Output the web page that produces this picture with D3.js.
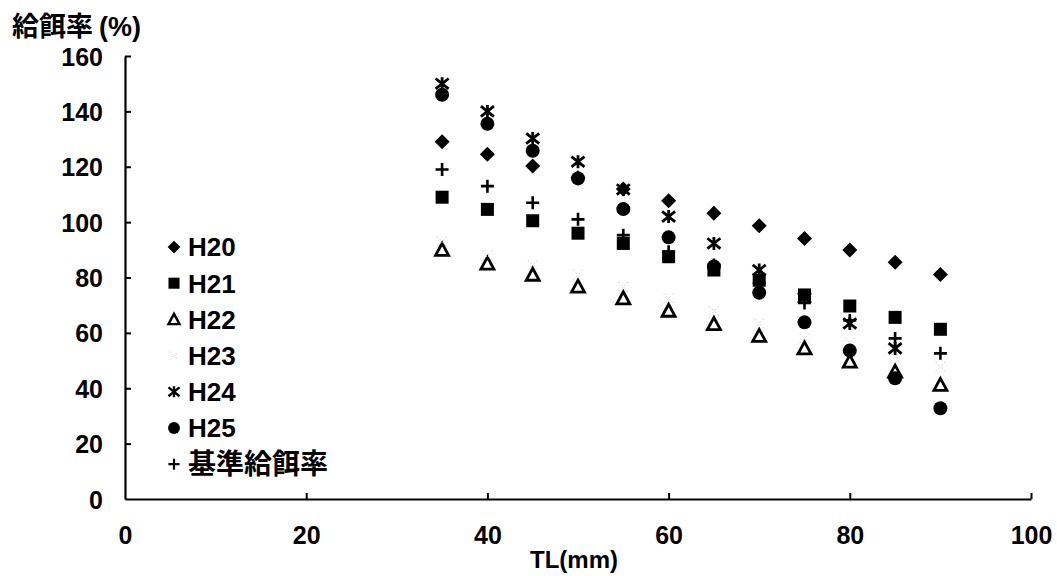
<!DOCTYPE html>
<html>
<head>
<meta charset="utf-8">
<script src="https://cdn.jsdelivr.net/npm/d3@7"></script>
<style>
body { margin: 0; background: #fff; }
svg text { font-family: "Liberation Sans", Arial, "Noto Sans CJK JP", sans-serif; font-weight: bold; fill: #000; }
.cjk { font-family: "Noto Sans CJK JP", sans-serif; }
</style>
</head>
<body>
<svg id="chart" width="1057" height="576"></svg>
<script>
// TL (mm)
var tl = [35, 40, 45, 50, 55, 60, 65, 70, 75, 80, 85, 90];

var h20 = [129, 124.5, 120.3, 116, 112, 107.7, 103.2, 98.7, 94.1, 89.9, 85.5, 81.1];
var h21 = [109, 104.6, 100.5, 96, 92.3, 87.5, 82.7, 79, 73.7, 69.7, 65.6, 61.3];
var h22 = [90, 85, 81, 76.7, 72.5, 68, 63.2, 58.9, 54.4, 49.6, 46, 41.2];
var h23 = [93, 88, 84.5, 81, 76.7, 72.5, 67.9, 63.4, 58, 56.5, 51.4, 47.8];
var h24 = [150, 140, 130.2, 121.8, 111.8, 102, 92.3, 82.7, 72.6, 63.4, 54.4, null];
var h25 = [146, 135.5, 125.8, 115.8, 104.7, 94.5, 84, 74.5, 63.8, 53.6, 43.6, 32.8];
var kijun = [119, 113, 107, 101, 95.3, 89.3, 84.5, 78, 70.8, 64.5, 58, 52.6];

var xTicks = [0, 20, 40, 60, 80, 100];
var yTicks = [0, 20, 40, 60, 80, 100, 120, 140, 160];

var series = [
    {name: 'H20', values: h20, shape: 'diamond'},
    {name: 'H21', values: h21, shape: 'square'},
    {name: 'H22', values: h22, shape: 'triangle'},
    {name: 'H23', values: h23, shape: 'faint'},
    {name: 'H24', values: h24, shape: 'asterisk'},
    {name: 'H25', values: h25, shape: 'circle'},
    {name: '基準給餌率', values: kijun, shape: 'plus'}
];

var svg = d3.select('#chart');
var x = d3.scaleLinear().domain([0, 100]).range([125, 1031]);
var y = d3.scaleLinear().domain([0, 160]).range([499, 56]);

// marker drawing, centred at 0,0
function drawMarker(g, shape, s) {
    s = s || 1;
    if (shape == 'diamond') {
        var r = 7.5 * s;
        g.append('path').attr('d', 'M0,' + (-r) + 'L' + r + ',0L0,' + r + 'L' + (-r) + ',0Z').attr('fill', '#000');
    } else if (shape == 'square') {
        var h = 6.5 * s;
        g.append('rect').attr('x', -h).attr('y', -h).attr('width', 2 * h).attr('height', 2 * h).attr('fill', '#000');
    } else if (shape == 'circle') {
        g.append('circle').attr('r', 7 * s).attr('fill', '#000');
    } else if (shape == 'triangle') {
        var t = 6.5 * s;
        g.append('path')
            .attr('d', 'M0,' + (-t) + 'L' + t + ',' + (t * 0.85) + 'L' + (-t) + ',' + (t * 0.85) + 'Z')
            .attr('fill', 'none').attr('stroke', '#000').attr('stroke-width', 2.8 * s);
    } else if (shape == 'asterisk') {
        var a = 6.5 * s;
        g.append('path')
            .attr('d', 'M' + (-a) + ',' + (-a * 0.8) + 'L' + a + ',' + (a * 0.8) +
                       'M' + (-a) + ',' + (a * 0.8) + 'L' + a + ',' + (-a * 0.8) +
                       'M0,' + (-a) + 'L0,' + a)
            .attr('stroke', '#000').attr('stroke-width', 2.8 * s).attr('fill', 'none');
    } else if (shape == 'plus') {
        var p = 6.5 * s;
        g.append('path')
            .attr('d', 'M' + (-p) + ',0L' + p + ',0M0,' + (-p) + 'L0,' + p)
            .attr('stroke', '#000').attr('stroke-width', 2.6 * s).attr('fill', 'none');
    } else if (shape == 'faint') {
        var f = 5 * s;
        g.append('path')
            .attr('d', 'M' + (-f) + ',' + (-f) + 'L' + f + ',' + f + 'M' + (-f) + ',' + f + 'L' + f + ',' + (-f))
            .attr('stroke', '#d0d0d0').attr('stroke-width', 1).attr('stroke-dasharray', '2,2').attr('fill', 'none');
    }
}

// axes
var xAxis = d3.axisBottom(x).tickValues(xTicks).tickSize(-6).tickPadding(27).tickSizeOuter(0);
var yAxis = d3.axisLeft(y).tickValues(yTicks).tickSize(-6).tickPadding(22).tickSizeOuter(0);

var gx = svg.append('g').attr('transform', 'translate(0,' + y(0) + ')').call(xAxis);
var gy = svg.append('g').attr('transform', 'translate(' + x(0) + ',0)').call(yAxis);
[gx, gy].forEach(function(g) {
    g.select('.domain').attr('stroke', '#000').attr('stroke-width', 2.2);
    g.selectAll('.tick line').attr('stroke', '#000').attr('stroke-width', 2);
    g.selectAll('.tick text').attr('font-size', 25).attr('fill', '#000')
        .style('font-family', '"Liberation Sans", Arial, sans-serif').style('font-weight', 'bold');
});
gy.selectAll('.tick text').attr('dy', '0.36em');
gy.selectAll('.tick').filter(function(d) { return d == 0; }).select('line').remove();
gx.selectAll('.tick').filter(function(d) { return d == 0; }).select('line').remove();

var title = svg.append('text').attr('x', 12).attr('y', 36).attr('font-size', 27);
title.append('tspan').attr('class', 'cjk').text('給餌率');
title.append('tspan').attr('dx', 6).text('(%)');
svg.append('text').attr('x', 574).attr('y', 568).attr('text-anchor', 'middle').attr('font-size', 24).text('TL(mm)');

// points
series.forEach(function(s) {
    var layer = svg.append('g').attr('class', 'series');
    s.values.forEach(function(v, i) {
        if (v === null) return;
        var g = layer.append('g').attr('transform', 'translate(' + x(tl[i]) + ',' + y(v) + ')');
        drawMarker(g, s.shape);
    });
});

// legend
var legend = svg.append('g').attr('class', 'legend');
series.forEach(function(s, i) {
    var ly = 247 + i * 36.2;
    var g = legend.append('g').attr('transform', 'translate(174,' + ly + ')');
    drawMarker(g, s.shape, 0.85);
    var isCjk = /[^\x00-\x7f]/.test(s.name);
    legend.append('text').attr('x', 188).attr('y', ly).attr('dy', '0.36em')
        .attr('class', isCjk ? 'cjk' : null)
        .attr('font-size', isCjk ? 28 : 26).text(s.name);
});
</script>
</body>
</html>
